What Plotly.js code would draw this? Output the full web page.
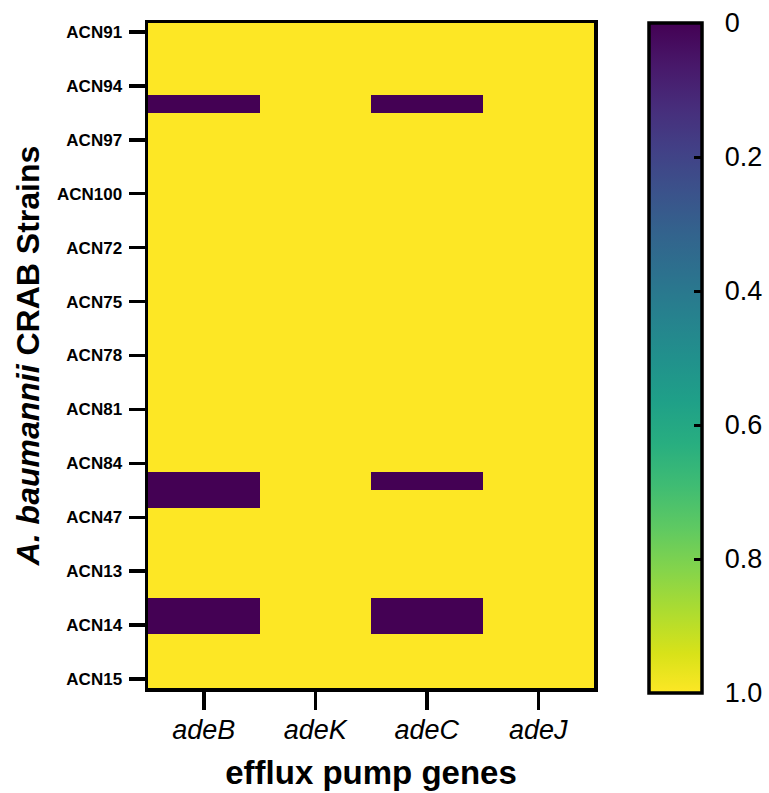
<!DOCTYPE html>
<html>
<head>
<meta charset="utf-8">
<script src="https://cdn.plot.ly/plotly-3.0.1.min.js"></script>
<style>html,body{margin:0;padding:0;background:#fff;}#chart{width:769px;height:793px;}</style>
</head>
<body>
<div id="chart"></div>
<script>
// Genes (columns)
const genes = ['adeB', 'adeK', 'adeC', 'adeJ'];
// Strain labels shown on the y axis, and the heatmap row each one sits on (37 rows total)
const strainLabels = ['ACN91','ACN94','ACN97','ACN100','ACN72','ACN75','ACN78','ACN81','ACN84','ACN47','ACN13','ACN14','ACN15'];
const labelRows = [0,3,6,9,12,15,18,21,24,27,30,33,36];
const rowCount = 37;
// Values per gene, one per row (1 = yellow, 0 = dark purple)
const adeB = [1,1,1,1,0,1,1,1,1,1,1,1,1,1,1,1,1,1,1,1,1,1,1,1,1,0,0,1,1,1,1,1,0,0,1,1,1];
const adeK = [1,1,1,1,1,1,1,1,1,1,1,1,1,1,1,1,1,1,1,1,1,1,1,1,1,1,1,1,1,1,1,1,1,1,1,1,1];
const adeC = [1,1,1,1,0,1,1,1,1,1,1,1,1,1,1,1,1,1,1,1,1,1,1,1,1,0,1,1,1,1,1,1,0,0,1,1,1];
const adeJ = [1,1,1,1,1,1,1,1,1,1,1,1,1,1,1,1,1,1,1,1,1,1,1,1,1,1,1,1,1,1,1,1,1,1,1,1,1];
// Colour bar tick labels (0 at the top, 1.0 at the bottom)
const cbarValues = [0, 0.2, 0.4, 0.6, 0.8, 1.0];
const cbarLabels = ['0', '0.2', '0.4', '0.6', '0.8', '1.0'];

const series = [adeB, adeK, adeC, adeJ];
const rows = Array.from({length: rowCount}, (_, i) => i);
// negate so that the colour bar runs 0 (top) -> 1 (bottom)
const z = rows.map(r => series.map(s => -s[r]));

const FONT = 'Liberation Sans, Arial, Helvetica, sans-serif';

const trace = {
  type: 'heatmap',
  x: genes.map((g, i) => i),
  y: rows,
  z: z,
  zmin: -1, zmax: 0,
  colorscale: 'Viridis',
  reversescale: true,
  hoverinfo: 'skip',
  colorbar: {
    x: 1.124, xanchor: 'left', xpad: 0,
    y: 1.0, yanchor: 'top', ypad: 0,
    lenmode: 'pixels', len: 670,
    thickness: 53,
    outlinewidth: 3.5, outlinecolor: '#000',
    tickmode: 'array',
    tickvals: cbarValues.map(v => -v),
    ticktext: cbarLabels.map(t => '\u00a0\u00a0' + t),
    ticks: 'inside', ticklen: 9, tickwidth: 3, tickcolor: '#000',
    tickfont: {family: FONT, size: 27, color: '#000'}
  }
};

const layout = {
  width: 769, height: 793,
  margin: {l: 148, r: 175, t: 23, b: 105, autoexpand: false},
  paper_bgcolor: '#fff', plot_bgcolor: '#fff',
  font: {family: FONT, color: '#000'},
  xaxis: {
    range: [-0.5, 3.5],
    tickmode: 'array',
    tickvals: genes.map((g, i) => i),
    ticktext: genes.map(g => '<i>' + g + '</i>'),
    ticks: 'outside', ticklen: 18, tickwidth: 3.5, tickcolor: '#000',
    ticklabelstandoff: -3,
    tickfont: {family: FONT, size: 27, color: '#000'},
    showline: true, linewidth: 3.5, linecolor: '#000', mirror: true,
    showgrid: false, zeroline: false,
    title: {text: '<b>efflux pump genes</b>', font: {family: FONT, size: 33, color: '#000'}, standoff: 18}
  },
  yaxis: {
    range: [rowCount - 0.5, -0.5],
    tickmode: 'array',
    tickvals: labelRows,
    ticktext: strainLabels.map(s => '<b>' + s + '</b>'),
    ticks: 'outside', ticklen: 16, tickwidth: 3.5, tickcolor: '#000',
    ticklabelstandoff: 3,
    tickfont: {family: FONT, size: 17, color: '#000'},
    showline: true, linewidth: 3.5, linecolor: '#000', mirror: true,
    showgrid: false, zeroline: false,
    title: {text: '<b><i>A. baumannii</i> CRAB Strains</b>', font: {family: FONT, size: 32, color: '#000'}, standoff: 8}
  }
};

Plotly.newPlot('chart', [trace], layout, {displayModeBar: false, staticPlot: true});
</script>
</body>
</html>
